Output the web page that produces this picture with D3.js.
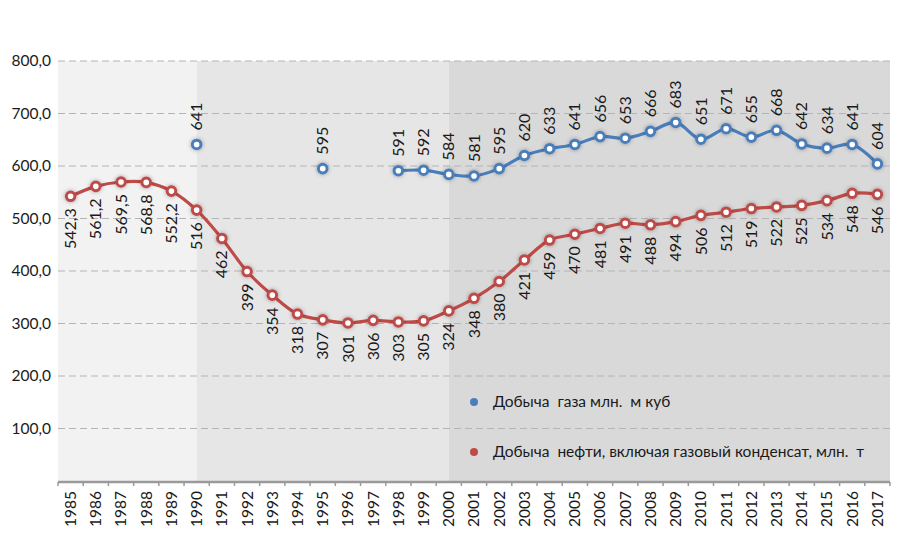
<!DOCTYPE html>
<html lang="ru">
<head>
    <meta charset="UTF-8">
    <title>Добыча нефти и газа</title>
    <script src="https://d3js.org/d3.v7.min.js"></script>
</head>
<style>
    body { margin: 0; background: white; }
    text { font-family: Lato, "Open Sans", sans-serif; fill: #1a1a1a; }
    .legend text { white-space: pre; }
</style>
<body>
    <svg id="chart"></svg>
    <script>
    // data
    const years = d3.range(1985, 2018).map(String);
    const oil = [542.3, 561.2, 569.5, 568.8, 552.2, 516, 462, 399, 354, 318, 307, 301, 306, 303,
                 305, 324, 348, 380, 421, 459, 470, 481, 491, 488, 494, 506, 512, 519, 522, 525,
                 534, 548, 546];
    const gas = [null, null, null, null, null, 641, null, null, null, null, 595, null, null, 591,
                 592, 584, 581, 595, 620, 633, 641, 656, 653, 666, 683, 651, 671, 655, 668, 642,
                 634, 641, 604];
    const yTicks = [100, 200, 300, 400, 500, 600, 700, 800];
    const seriesNames = ["Добыча  газа млн.  м куб", "Добыча  нефти, включая газовый конденсат, млн.  т"];
    const periodStarts = ["1985", "1990", "2000"];   // shaded background zones

    const width = 900, height = 541;
    const margin = {top: 61, right: 10, bottom: 60, left: 58};

    const svg = d3.select("#chart").attr("width", width).attr("height", height);

    const x = d3.scaleBand().domain(years).range([margin.left, width - margin.right]);
    const y = d3.scaleLinear().domain([0, 800]).range([height - margin.bottom, margin.top]);
    const cx = d => x(d) + x.bandwidth() / 2;

    // glow for markers
    const defs = svg.append("defs");
    const glow = defs.append("filter").attr("id", "glow")
        .attr("x", "-100%").attr("y", "-100%").attr("width", "300%").attr("height", "300%");
    glow.append("feGaussianBlur").attr("in", "SourceAlpha").attr("stdDeviation", 2).attr("result", "b");
    glow.append("feFlood").attr("flood-color", "#000").attr("flood-opacity", 0.35);
    glow.append("feComposite").attr("in2", "b").attr("operator", "in").attr("result", "s");
    const merge = glow.append("feMerge");
    merge.append("feMergeNode").attr("in", "s");
    merge.append("feMergeNode").attr("in", "SourceGraphic");

    //background zones
    const zoneColors = ["#f2f2f2", "#e6e6e6", "#d9d9d9"];
    const zoneX = [margin.left, cx("1990"), cx("2000"), width - margin.right];
    svg.selectAll(".zone").data(periodStarts).join("rect")
        .attr("class", "zone")
        .attr("x", (d, i) => zoneX[i])
        .attr("width", (d, i) => zoneX[i + 1] - zoneX[i])
        .attr("y", y(800))
        .attr("height", y(0) - y(800))
        .attr("fill", (d, i) => zoneColors[i]);

    //grid
    svg.append("g").selectAll("line").data(yTicks).join("line")
        .attr("x1", margin.left).attr("x2", width - margin.right)
        .attr("y1", d => y(d)).attr("y2", d => y(d))
        .attr("stroke", "#b4b4b4").attr("stroke-width", 1).attr("stroke-dasharray", "7,4");

    //y labels
    svg.append("g").selectAll("text").data(yTicks).join("text")
        .attr("x", 51).attr("y", d => y(d)).attr("dy", "0.35em")
        .attr("text-anchor", "end").attr("font-size", 15.5)
        .text(d => d3.format(".1f")(d).replace(".", ","));

    //x axis
    const axisY = y(0) + 1;
    svg.append("line")
        .attr("x1", margin.left).attr("x2", width - margin.right)
        .attr("y1", axisY).attr("y2", axisY)
        .attr("stroke", "#9a9a9a").attr("stroke-width", 2.5);
    svg.append("g").selectAll("line").data(years.concat(["end"])).join("line")
        .attr("x1", (d, i) => margin.left + i * x.step())
        .attr("x2", (d, i) => margin.left + i * x.step())
        .attr("y1", axisY).attr("y2", axisY + 4)
        .attr("stroke", "#9a9a9a").attr("stroke-width", 1.5);
    svg.append("g").selectAll("text").data(years).join("text")
        .attr("transform", d => `translate(${cx(d)},${axisY + 9}) rotate(-90)`)
        .attr("dy", "0.35em").attr("text-anchor", "end").attr("font-size", 15.5)
        .text(d => d);

    //lines
    const lineGen = d3.line()
        .defined(d => d.v != null)
        .x(d => cx(d.year)).y(d => y(d.v))
        .curve(d3.curveCatmullRom.alpha(0.5));

    const oilData = years.map((yr, i) => ({year: yr, v: oil[i]}));
    const gasData = years.map((yr, i) => ({year: yr, v: gas[i]}));

    const series = [
        {data: gasData, color: "#4a7ebb", labelAbove: true, fmt: d => String(d)},
        {data: oilData, color: "#be4b48", labelAbove: false, fmt: d => String(d).replace(".", ",")}
    ];

    series.forEach(s => {
        svg.append("path").datum(s.data)
            .attr("d", lineGen)
            .attr("fill", "none").attr("stroke", s.color).attr("stroke-width", 3.2);

        const pts = s.data.filter(d => d.v != null);
        svg.append("g").selectAll("circle").data(pts).join("circle")
            .attr("cx", d => cx(d.year)).attr("cy", d => y(d.v)).attr("r", 4.3)
            .attr("fill", "white").attr("stroke", s.color).attr("stroke-width", 3)
            .attr("filter", "url(#glow)");

        svg.append("g").selectAll("text").data(pts).join("text")
            .attr("transform", d => s.labelAbove
                ? `translate(${cx(d.year)},${y(d.v) - 14}) rotate(-90)`
                : `translate(${cx(d.year)},${y(d.v) + 12}) rotate(-90)`)
            .attr("dy", "0.35em")
            .attr("text-anchor", s.labelAbove ? "start" : "end")
            .attr("font-size", 16)
            .text(d => s.fmt(d.v));
    });

    //legend
    const legend = svg.append("g").attr("class", "legend").selectAll("g").data(seriesNames).join("g")
        .attr("transform", (d, i) => `translate(474,${402 + i * 50})`);
    legend.append("circle").attr("r", 4)
        .attr("fill", (d, i) => series[i].color);
    legend.append("text").attr("x", 19).attr("dy", "0.35em")
        .attr("font-size", 15.5)
        .text(d => d);
    </script>
</body>
</html>
